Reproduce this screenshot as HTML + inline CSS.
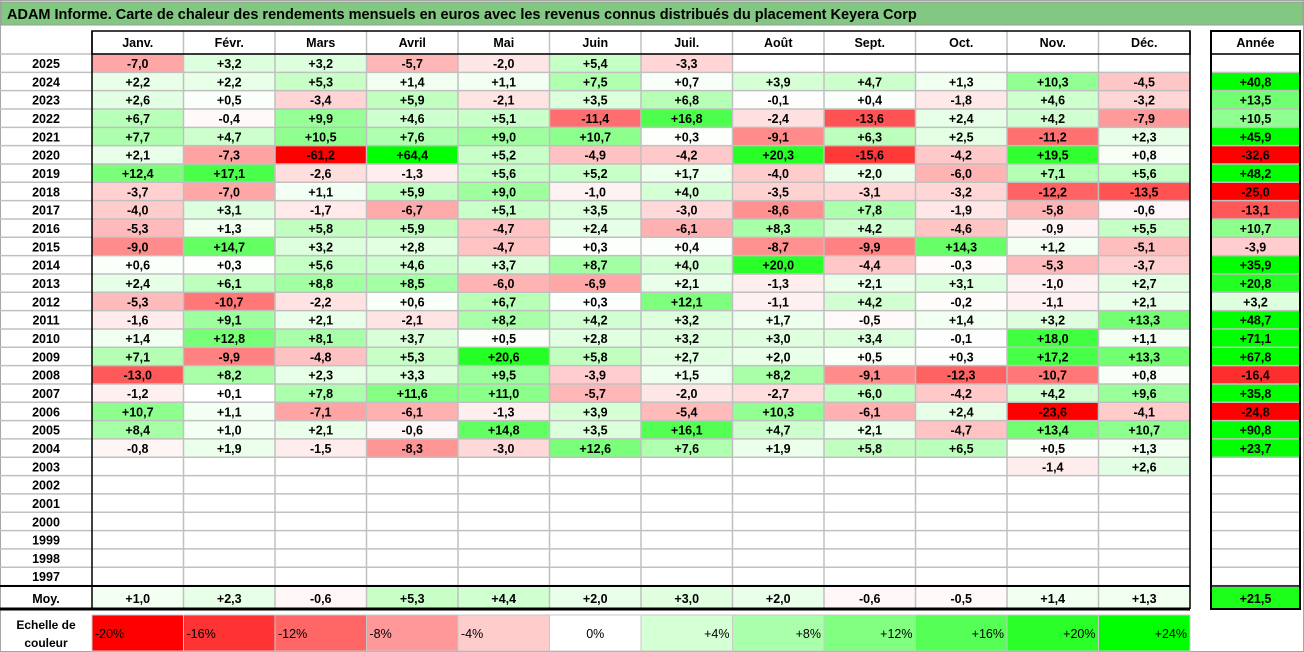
<!DOCTYPE html>
<html><head><meta charset="utf-8"><style>
html,body{margin:0;padding:0;background:#fff;}
svg{display:block;font-family:"Liberation Sans",sans-serif;}
</style></head><body>
<svg id="chart" width="1304" height="652" viewBox="0 0 1304 652" xmlns="http://www.w3.org/2000/svg">
<rect x="0.5" y="0.5" width="1303" height="651" fill="#fff" stroke="#a6a6a6"/>
<g>
<rect x="1" y="2" width="1302" height="23" fill="#82c882" stroke="#9a9a9a"/>
<text x="7" y="19" font-size="14.5" font-weight="bold" fill="#000">ADAM Informe. Carte de chaleur des rendements mensuels en euros avec les revenus connus distribués du placement Keyera Corp</text>
</g>
<g id="grid"></g>
</svg>
<script>
const months=["Janv.","Févr.","Mars","Avril","Mai","Juin","Juil.","Août","Sept.","Oct.","Nov.","Déc."];
const years=[2025,2024,2023,2022,2021,2020,2019,2018,2017,2016,2015,2014,2013,2012,2011,2010,2009,2008,2007,2006,2005,2004,2003,2002,2001,2000,1999,1998,1997];
const N=null;
const monthly=[
[-7.0,3.2,3.2,-5.7,-2.0,5.4,-3.3,N,N,N,N,N],
[2.2,2.2,5.3,1.4,1.1,7.5,0.7,3.9,4.7,1.3,10.3,-4.5],
[2.6,0.5,-3.4,5.9,-2.1,3.5,6.8,-0.1,0.4,-1.8,4.6,-3.2],
[6.7,-0.4,9.9,4.6,5.1,-11.4,16.8,-2.4,-13.6,2.4,4.2,-7.9],
[7.7,4.7,10.5,7.6,9.0,10.7,0.3,-9.1,6.3,2.5,-11.2,2.3],
[2.1,-7.3,-61.2,64.4,5.2,-4.9,-4.2,20.3,-15.6,-4.2,19.5,0.8],
[12.4,17.1,-2.6,-1.3,5.6,5.2,1.7,-4.0,2.0,-6.0,7.1,5.6],
[-3.7,-7.0,1.1,5.9,9.0,-1.0,4.0,-3.5,-3.1,-3.2,-12.2,-13.5],
[-4.0,3.1,-1.7,-6.7,5.1,3.5,-3.0,-8.6,7.8,-1.9,-5.8,-0.6],
[-5.3,1.3,5.8,5.9,-4.7,2.4,-6.1,8.3,4.2,-4.6,-0.9,5.5],
[-9.0,14.7,3.2,2.8,-4.7,0.3,0.4,-8.7,-9.9,14.3,1.2,-5.1],
[0.6,0.3,5.6,4.6,3.7,8.7,4.0,20.0,-4.4,-0.3,-5.3,-3.7],
[2.4,6.1,8.8,8.5,-6.0,-6.9,2.1,-1.3,2.1,3.1,-1.0,2.7],
[-5.3,-10.7,-2.2,0.6,6.7,0.3,12.1,-1.1,4.2,-0.2,-1.1,2.1],
[-1.6,9.1,2.1,-2.1,8.2,4.2,3.2,1.7,-0.5,1.4,3.2,13.3],
[1.4,12.8,8.1,3.7,0.5,2.8,3.2,3.0,3.4,-0.1,18.0,1.1],
[7.1,-9.9,-4.8,5.3,20.6,5.8,2.7,2.0,0.5,0.3,17.2,13.3],
[-13.0,8.2,2.3,3.3,9.5,-3.9,1.5,8.2,-9.1,-12.3,-10.7,0.8],
[-1.2,0.1,7.8,11.6,11.0,-5.7,-2.0,-2.7,6.0,-4.2,4.2,9.6],
[10.7,1.1,-7.1,-6.1,-1.3,3.9,-5.4,10.3,-6.1,2.4,-23.6,-4.1],
[8.4,1.0,2.1,-0.6,14.8,3.5,16.1,4.7,2.1,-4.7,13.4,10.7],
[-0.8,1.9,-1.5,-8.3,-3.0,12.6,7.6,1.9,5.8,6.5,0.5,1.3],
[N,N,N,N,N,N,N,N,N,N,-1.4,2.6],
[N,N,N,N,N,N,N,N,N,N,N,N],
[N,N,N,N,N,N,N,N,N,N,N,N],
[N,N,N,N,N,N,N,N,N,N,N,N],
[N,N,N,N,N,N,N,N,N,N,N,N],
[N,N,N,N,N,N,N,N,N,N,N,N],
[N,N,N,N,N,N,N,N,N,N,N,N]];
const annual=[N,40.8,13.5,10.5,45.9,-32.6,48.2,-25.0,-13.1,10.7,-3.9,35.9,20.8,3.2,48.7,71.1,67.8,-16.4,35.8,-24.8,90.8,23.7,N,N,N,N,N,N,N];
const averages=[1.0,2.3,-0.6,5.3,4.4,2.0,3.0,2.0,-0.6,-0.5,1.4,1.3];
const avgAnnual=21.5;
const scaleValues=[-20,-16,-12,-8,-4,0,4,8,12,16,20,24];

const NS="http://www.w3.org/2000/svg";
const g=document.getElementById('grid');
const X0=92, CW=91.5, AX=1211, AW=89, Y0=54, RH=18.33, HY=31, HH=23;
const colX=i=>X0+i*CW;
const rowY=i=>Y0+i*RH;
function color(v){
  if(v>=0){const t=Math.min(v/24,1);const c=Math.round(255*(1-t));return `rgb(${c},255,${c})`;}
  const t=Math.min(-v/20,1);const c=Math.round(255*(1-t));return `rgb(255,${c},${c})`;
}
function fmt(v){return (v>0?'+':v<0?'-':'')+Math.abs(v).toFixed(1).replace('.',',');}
function el(tag,attrs,parent){const e=document.createElementNS(NS,tag);for(const k in attrs)e.setAttribute(k,attrs[k]);(parent||g).appendChild(e);return e;}
function txt(x,y,s,anchor,size,parent){const t=el('text',{x:x,y:y,'text-anchor':anchor||'middle','font-size':size||12.5,'font-weight':'bold',fill:'#000'},parent);t.textContent=s;return t;}

// header
months.forEach((m,i)=>{
  const t=txt(colX(i)+CW/2,HY+16,m);
  
  
  if(i>0) el('line',{x1:colX(i),y1:HY,x2:colX(i),y2:HY+HH,stroke:'#c0c0c0','stroke-width':1.5});
});
const ah=txt(AX+AW/2,HY+16,'Année');



// rows
years.forEach((yr,r)=>{
  const y=rowY(r);
  const yl=txt(46,y+14,String(yr));
  
  
  monthly[r].forEach((v,c)=>{
    if(v===null)return;
    const rc=el('rect',{x:colX(c),y:y,width:CW,height:RH,fill:color(v)});
    
    
    txt(colX(c)+CW/2,y+14,fmt(v));
  });
  const a=annual[r];
  if(a!==null){
    const rc=el('rect',{x:AX,y:y,width:AW,height:RH,fill:color(a)});
    
    
    txt(AX+AW/2,y+14,fmt(a));
  }
});
// grid lines
for(let r=0;r<=years.length;r++){
  const y=rowY(r);
  el('line',{x1:0,y1:y,x2:1190,y2:y,stroke:'#c0c0c0','stroke-width':1.5});
  el('line',{x1:AX,y1:y,x2:AX+AW,y2:y,stroke:'#c0c0c0','stroke-width':1.5});
}
for(let c=1;c<12;c++){
  el('line',{x1:colX(c),y1:Y0,x2:colX(c),y2:609,stroke:'#c0c0c0','stroke-width':1.5});
}
// average row
const MY=587, MH=22;
const ml=txt(46,MY+16,'Moy.');


averages.forEach((v,c)=>{
  const rc=el('rect',{x:colX(c),y:MY,width:CW,height:MH,fill:color(v)});
  
  
  txt(colX(c)+CW/2,MY+16,fmt(v));
  if(c>0) el('line',{x1:colX(c),y1:MY,x2:colX(c),y2:MY+MH,stroke:'#c0c0c0','stroke-width':1.5});
});
const aa=el('rect',{x:AX,y:MY,width:AW,height:MH,fill:color(avgAnnual)});


txt(AX+AW/2,MY+16,fmt(avgAnnual));

// black borders
el('rect',{x:X0,y:HY,width:1190-X0,height:HH,fill:'none',stroke:'#000','stroke-width':1.5});
el('line',{x1:X0,y1:HY,x2:X0,y2:609,stroke:'#000','stroke-width':1.5});
el('line',{x1:1190,y1:HY,x2:1190,y2:609,stroke:'#000','stroke-width':1.5});
el('line',{x1:0,y1:586,x2:1190,y2:586,stroke:'#000','stroke-width':2});
el('line',{x1:0,y1:609,x2:1190,y2:609,stroke:'#000','stroke-width':3});
el('rect',{x:AX,y:HY,width:AW,height:609-HY,fill:'none',stroke:'#000','stroke-width':2});
el('line',{x1:AX,y1:Y0,x2:AX+AW,y2:Y0,stroke:'#000','stroke-width':1.5});
el('line',{x1:AX,y1:586,x2:AX+AW,y2:586,stroke:'#000','stroke-width':1.5});

// colour scale
const SY=615, SH=36;
const sl1=txt(46,SY+14,'Echelle de','middle',12);


txt(46,SY+32,'couleur','middle',12);
scaleValues.forEach((v,c)=>{
  const rc=el('rect',{x:colX(c),y:SY,width:CW,height:SH,fill:color(v),stroke:'#c8c8c8','stroke-width':1});
  
  
  const s=(v>0?'+':'')+v+'%';
  let t;
  if(v<0) t=txt(colX(c)+3,SY+23,s,'start',12.5);
  else if(v===0) t=txt(colX(c)+CW/2,SY+23,s,'middle',12.5);
  else t=txt(colX(c)+CW-3,SY+23,s,'end',12.5);
  t.setAttribute('font-weight','normal');
});
</script>
</body></html>
